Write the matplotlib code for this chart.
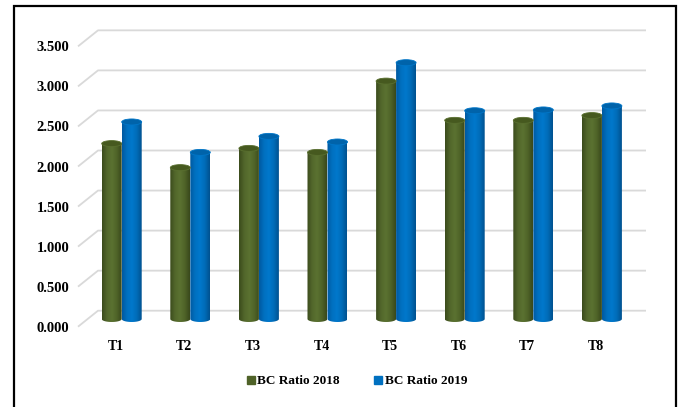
import numpy as np
import matplotlib.pyplot as plt
from matplotlib.colors import LinearSegmentedColormap
from matplotlib.patches import Ellipse, PathPatch, Rectangle
from matplotlib.path import Path
from matplotlib.lines import Line2D
from matplotlib.transforms import ScaledTranslation

categories = ["T1", "T2", "T3", "T4", "T5", "T6", "T7", "T8"]
ratio_2018 = [2.19, 1.89, 2.13, 2.08, 2.97, 2.48, 2.48, 2.54]
ratio_2019 = [2.46, 2.08, 2.28, 2.21, 3.20, 2.60, 2.61, 2.66]
y_ticks = [0.0, 0.5, 1.0, 1.5, 2.0, 2.5, 3.0, 3.5]
y_labels = ["0.000", "0.500", "1.000", "1.500", "2.000", "2.500", "3.000", "3.500"]
series_names = ["BC Ratio 2018", "BC Ratio 2019"]

plt.rcParams["font.family"] = ["Liberation Serif", "DejaVu Serif"]
plt.rcParams["font.weight"] = "bold"

# cylinder shading, left edge -> right edge
green_cmap = LinearSegmentedColormap.from_list(
    "g", ["#3b4b1c", "#52672b", "#5b7231", "#4f6328", "#39481b"])
blue_cmap = LinearSegmentedColormap.from_list(
    "b", ["#0059a0", "#0070c0", "#0078cc", "#006cb8", "#00518f"])
cap_colors = ["#46591f", "#0063aa"]

fig = plt.figure(figsize=(6.83, 4.07), dpi=100)
W, H = 683, 407
left_px, right_px, top_px, bottom_px = 74, 660, 15, 333
ax = fig.add_axes([left_px / W, (H - bottom_px) / H,
                   (right_px - left_px) / W, (bottom_px - top_px) / H])

px_per_unit = 80.1
px_per_cat = 68.6
zero_px = 319
first_px = 121.7
ax.set_xlim((left_px - first_px) / px_per_cat, (right_px - first_px) / px_per_cat)
ax.set_ylim((zero_px - bottom_px) / px_per_unit, (zero_px - top_px) / px_per_unit)

# back wall gridlines with the floor diagonal going to the front
back_dy = 8.3 / px_per_unit
front_dy = -7.7 / px_per_unit
x_front = (78 - first_px) / px_per_cat
x_back = (98 - first_px) / px_per_cat
x_end = (646 - first_px) / px_per_cat
for v in y_ticks:
    ax.plot([x_front, x_back, x_end], [v + front_dy, v + back_dy, v + back_dy],
            color="#d9d9d9", lw=1.3, zorder=1, solid_capstyle="butt")

bar_w = 20 / px_per_cat
cap_h = 6 / px_per_unit
grad = np.linspace(0, 1, 64).reshape(1, -1)


def cylinder(xc, height, cmap, cap_color):
    x0, x1 = xc - bar_w / 2, xc + bar_w / 2
    t = np.linspace(np.pi, 2 * np.pi, 30)
    bottom = np.column_stack([xc + bar_w / 2 * np.cos(t), cap_h / 2 * np.sin(t)])
    verts = np.vstack([[[x0, height], [x0, 0]], bottom, [[x1, 0], [x1, height], [x0, height]]])
    outline = PathPatch(Path(verts, closed=True), facecolor="none", edgecolor="none")
    ax.add_patch(outline)
    img = ax.imshow(grad, cmap=cmap, aspect="auto", zorder=3,
                    extent=(x0, x1, -cap_h, height), interpolation="bilinear")
    img.set_clip_path(outline)
    ax.add_patch(Ellipse((xc, height), bar_w, cap_h, facecolor=cap_color,
                         edgecolor=cmap(0.55), lw=0.6, zorder=4))


for i in range(len(categories)):
    cylinder(i - bar_w / 2, ratio_2018[i], green_cmap, cap_colors[0])
    cylinder(i + bar_w / 2, ratio_2019[i], blue_cmap, cap_colors[1])

ax.set_xlim((left_px - first_px) / px_per_cat, (right_px - first_px) / px_per_cat)
ax.set_ylim((zero_px - bottom_px) / px_per_unit, (zero_px - top_px) / px_per_unit)

ax.set_yticks(y_ticks, y_labels)
ax.set_xticks(range(len(categories)), categories)
ax.tick_params(axis="y", length=0, pad=3.4, labelsize=10.5)
ax.tick_params(axis="x", length=0, pad=9.9, labelsize=10)
for lbl in ax.get_yticklabels():
    lbl.set_transform(lbl.get_transform() + ScaledTranslation(0, -7.7 / 100, fig.dpi_scale_trans))
for lbl in ax.get_xticklabels():
    lbl.set_verticalalignment("center")
    lbl.set_transform(lbl.get_transform() + ScaledTranslation(-6 / 100, 0, fig.dpi_scale_trans))
for s in ax.spines.values():
    s.set_visible(False)
ax.patch.set_visible(False)

handles = [Line2D([], [], ls="none", marker="s", markersize=5.5,
                  markerfacecolor=c, markeredgecolor=c)
           for c in ["#4f6228", "#0070c0"]]
fig.legend(handles, series_names, loc="center", bbox_to_anchor=(357 / W, (H - 381) / H),
           ncol=2, frameon=False, fontsize=9.5, handlelength=0.6, handletextpad=0.2,
           columnspacing=2.6)

fig.patches.append(Rectangle((14 / W, -0.02), (676 - 14) / W, (H - 5.5) / H + 0.02,
                             transform=fig.transFigure, fill=False,
                             edgecolor="black", lw=1.6))

fig.savefig("out.png", dpi=100)
